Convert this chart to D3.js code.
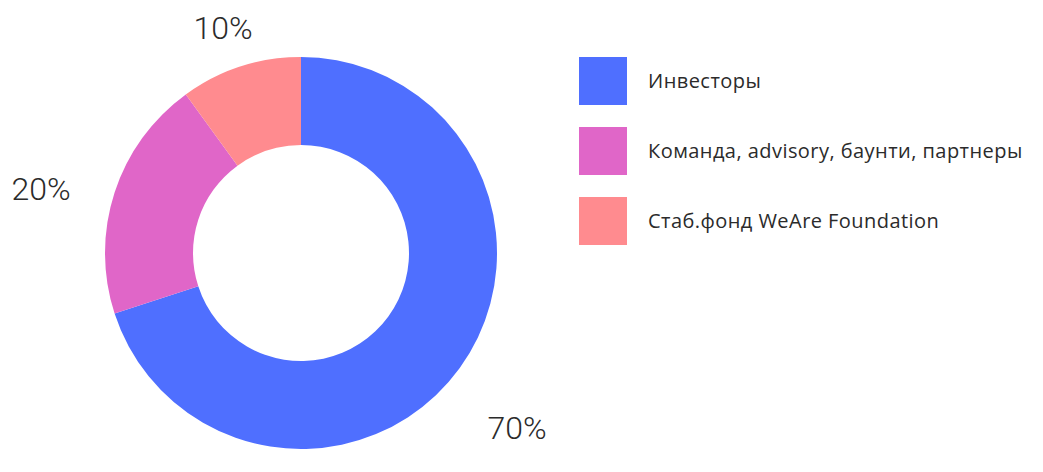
<!DOCTYPE html>
<html>
<head>
<meta charset="utf-8">
<script src="https://cdn.jsdelivr.net/npm/d3@7"></script>
<style>
  html, body { margin: 0; padding: 0; background: #ffffff; }
  svg { display: block; }
</style>
</head>
<body>
<svg id="chart" width="1043" height="472"></svg>
<script>
// ---- data ----
const categories = ["Инвесторы", "Команда, advisory, баунти, партнеры", "Стаб.фонд WeAre Foundation"];
const values = [70, 20, 10];
const valueLabels = ["70%", "20%", "10%"];
const colors = ["#4f6fff", "#e066c8", "#ff8b8f"];

// ---- layout ----
const W = 1043, H = 472;
const cx = 301, cy = 253;
const outerR = 196, innerR = 108;
const labelRadii = [278, 268, 239];
const labelAngleShiftDeg = [3, -4, -1];
const textColor = "#2b2b2b";
const labelFont = "Roboto, sans-serif";
const legendFont = "'Open Sans', Roboto, sans-serif";

const svg = d3.select("#chart");

const pie = d3.pie().sort(null).value(d => d)
  .startAngle(0).endAngle(2 * Math.PI);
const arcs = pie(values);

const arc = d3.arc().innerRadius(innerR).outerRadius(outerR);

const g = svg.append("g").attr("transform", `translate(${cx},${cy})`);

g.selectAll("path.slice")
  .data(arcs)
  .join("path")
  .attr("class", "slice")
  .attr("d", arc)
  .attr("fill", (d, i) => colors[i]);

g.selectAll("text.pct")
  .data(arcs)
  .join("text")
  .attr("class", "pct")
  .attr("transform", (d, i) => {
    const a = (d.startAngle + d.endAngle) / 2 + labelAngleShiftDeg[i] * Math.PI / 180;
    const x = labelRadii[i] * Math.sin(a);
    const y = -labelRadii[i] * Math.cos(a);
    return `translate(${x},${y})`;
  })
  .attr("text-anchor", "middle")
  .attr("dy", "0.36em")
  .attr("font-family", labelFont)
  .attr("font-weight", 300)
  .attr("font-size", 32)
  .attr("fill", textColor)
  .text((d, i) => valueLabels[i]);

// ---- legend ----
const legendX = 579, legendY = 57, box = 48, step = 70, textGap = 21;
const legend = svg.append("g").attr("transform", `translate(${legendX},${legendY})`);
const items = legend.selectAll("g.item")
  .data(categories)
  .join("g")
  .attr("class", "item")
  .attr("transform", (d, i) => `translate(0,${i * step})`);

items.append("rect")
  .attr("width", box)
  .attr("height", box)
  .attr("fill", (d, i) => colors[i]);

items.append("text")
  .attr("x", box + textGap)
  .attr("y", box / 2)
  .attr("dy", "0.36em")
  .attr("font-family", legendFont)
  .attr("font-size", 20)
  .attr("fill", textColor)
  .attr("letter-spacing", 0.45)
  .text(d => d);
</script>
</body>
</html>
